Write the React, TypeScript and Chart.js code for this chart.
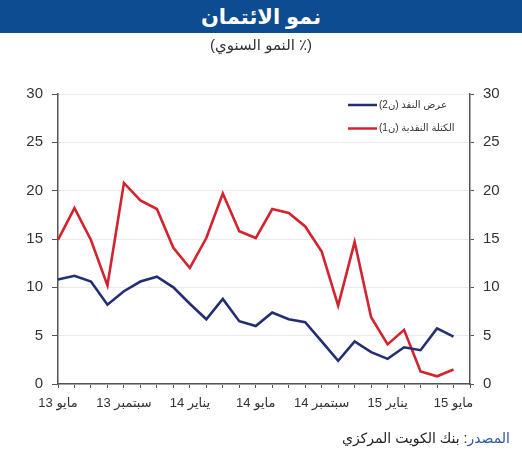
import { useEffect, useRef } from 'react';
import { Chart, registerables } from 'chart.js';

Chart.register(...registerables);

const categories = [
  'مايو 13', 'يونيو 13', 'يوليو 13', 'أغسطس 13', 'سبتمبر 13', 'أكتوبر 13', 'نوفمبر 13', 'ديسمبر 13',
  'يناير 14', 'فبراير 14', 'مارس 14', 'أبريل 14', 'مايو 14', 'يونيو 14', 'يوليو 14', 'أغسطس 14',
  'سبتمبر 14', 'أكتوبر 14', 'نوفمبر 14', 'ديسمبر 14', 'يناير 15', 'فبراير 15', 'مارس 15', 'أبريل 15',
  'مايو 15', 'يونيو 15',
];

const m2Values = [10.8, 11.2, 10.6, 8.2, 9.6, 10.6, 11.1, 10.0, 8.3, 6.7, 8.8, 6.5, 6.0, 7.4, 6.7, 6.4, 4.4, 2.4, 4.4, 3.3, 2.6, 3.8, 3.5, 5.75, 4.9];
const m1Values = [14.9, 18.2, 14.9, 10.2, 20.8, 19.0, 18.1, 14.1, 12.0, 15.1, 19.7, 15.8, 15.1, 18.1, 17.7, 16.3, 13.7, 8.1, 14.7, 6.9, 4.1, 5.6, 1.3, 0.8, 1.5];

const seriesLabels = ['عرض النقد (ن2)', 'الكتلة النقدية (ن1)'];
const seriesColors = ['#232F72', '#D2232E'];

const yMin = 0;
const yMax = 30;
const yStep = 5;

const titleText = 'نمو الائتمان';
const subtitleText = '(٪ النمو السنوي)';
const sourceLabel = 'المصدر';
const sourceText = ': بنك الكويت المركزي';

const AXIS = '#555555';
const TEXT = '#333333';
const FONT = "'Liberation Sans', Arial, 'DejaVu Sans', sans-serif";

const legendPlugin = {
  id: 'inAreaLegend',
  afterDatasetsDraw(chart: any) {
    const { ctx, chartArea } = chart;
    ctx.save();
    ctx.direction = 'rtl';
    chart.data.datasets.forEach((ds: any, i: number) => {
      const y = chartArea.top + 11 + i * 23.5;
      const x0 = chartArea.right - 122;
      const x1 = chartArea.right - 93;
      ctx.strokeStyle = ds.borderColor;
      ctx.lineWidth = 2.5;
      ctx.beginPath();
      ctx.moveTo(x0, y);
      ctx.lineTo(x1, y);
      ctx.stroke();
      ctx.fillStyle = TEXT;
      ctx.font = `10px ${FONT}`;
      ctx.textAlign = 'left';
      ctx.textBaseline = 'middle';
      ctx.fillText(ds.label, x1 + 2, y);
    });
    ctx.restore();
  },
};

export default function App() {
  const canvasRef = useRef<HTMLCanvasElement | null>(null);

  useEffect(() => {
    const canvas = canvasRef.current;
    if (!canvas) return;
    const chart = new Chart(canvas, {
      type: 'line',
      data: {
        labels: categories,
        datasets: [
          {
            label: seriesLabels[0],
            data: m2Values,
            borderColor: seriesColors[0],
            backgroundColor: seriesColors[0],
            borderWidth: 2.6,
            pointRadius: 0,
            tension: 0,
            yAxisID: 'y',
          },
          {
            label: seriesLabels[1],
            data: m1Values,
            borderColor: seriesColors[1],
            backgroundColor: seriesColors[1],
            borderWidth: 2.6,
            pointRadius: 0,
            tension: 0,
            yAxisID: 'y',
          },
        ],
      },
      options: {
        responsive: false,
        animation: false,
        layout: { padding: { top: 94, left: 0, right: 0, bottom: 0 } },
        plugins: {
          legend: { display: false },
          tooltip: { enabled: false },
          title: { display: false },
        },
        scales: {
          x: {
            type: 'category',
            offset: false,
            grid: {
              drawOnChartArea: false,
              drawTicks: true,
              tickLength: 4,
              color: AXIS,
              tickColor: AXIS,
            },
            border: { color: AXIS, width: 1.5 },
            ticks: {
              autoSkip: false,
              maxRotation: 0,
              minRotation: 0,
              padding: 8,
              color: TEXT,
              font: { family: FONT, size: 13 },
              callback: (_v: any, i: number) => (i % 4 === 0 ? categories[i] : ''),
            },
            afterFit: (s: any) => { s.height = 66; },
          },
          y: {
            position: 'left',
            min: yMin,
            max: yMax,
            grid: {
              drawOnChartArea: true,
              color: '#ebebeb',
              tickColor: AXIS,
              tickLength: 6,
            },
            border: { color: AXIS, width: 1.5 },
            ticks: {
              stepSize: yStep,
              padding: 9,
              color: TEXT,
              font: { family: FONT, size: 15 },
            },
            afterFit: (s: any) => { s.width = 58; },
          },
          y2: {
            position: 'right',
            min: yMin,
            max: yMax,
            grid: {
              drawOnChartArea: false,
              color: AXIS,
              tickColor: AXIS,
              tickLength: 4,
            },
            border: { color: AXIS, width: 1.5 },
            ticks: {
              stepSize: yStep,
              padding: 9,
              color: TEXT,
              font: { family: FONT, size: 15 },
            },
            afterFit: (s: any) => { s.width = 52; },
          },
        },
      },
      plugins: [legendPlugin],
    } as any);
    return () => chart.destroy();
  }, []);

  return (
    <div style={{ position: 'absolute', left: 0, top: 0, width: 522, height: 450, background: '#fff', overflow: 'hidden', fontFamily: FONT }}>
      <canvas ref={canvasRef} width={522} height={450} dir="rtl" style={{ position: 'absolute', left: 0, top: 0, width: 522, height: 450 }} />
      <div dir="rtl" style={{ position: 'absolute', left: 0, top: 0, width: 522, height: 33, background: '#0E4C91', color: '#fff', fontWeight: 'bold', fontSize: 21, lineHeight: '33px', textAlign: 'center' }}>
        {titleText}
      </div>
      <div dir="rtl" style={{ position: 'absolute', left: 0, top: 35, width: 522, height: 20, color: TEXT, fontSize: 15, lineHeight: '20px', textAlign: 'center' }}>
        {subtitleText}
      </div>
      <div dir="rtl" style={{ position: 'absolute', right: 12, top: 428, color: '#222', fontSize: 14, lineHeight: '20px', whiteSpace: 'nowrap' }}>
        <span style={{ color: '#2A56A5' }}>{sourceLabel}</span>{sourceText}
      </div>
    </div>
  );
}
